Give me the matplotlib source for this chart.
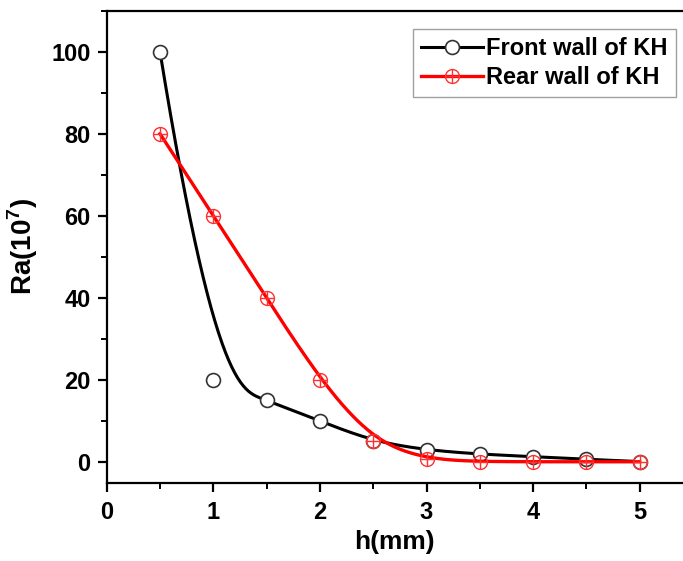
import numpy as np
import matplotlib
matplotlib.use("Agg")
import matplotlib.pyplot as plt
from matplotlib.ticker import MultipleLocator
from matplotlib.lines import Line2D

plt.rcParams['font.family'] = ['Liberation Sans', 'DejaVu Sans']
plt.rcParams['font.weight'] = 'bold'
plt.rcParams['mathtext.fontset'] = 'custom'
plt.rcParams['mathtext.bf'] = 'Liberation Sans:bold'
plt.rcParams['mathtext.rm'] = 'Liberation Sans:bold'

h = [0.5, 1.0, 1.5, 2.0, 2.5, 3.0, 3.5, 4.0, 4.5, 5.0]
front = [100, 20, 15, 10, 5, 2.9, 1.9, 1.3, 0.65, 0.1]
rear = [80, 60, 40, 20, 5, 0.65, 0.1, 0.05, 0.05, 0.05]


def bspline(px, py, deg=3, num=400):
    # clamped uniform B-spline using the data points as control points (Origin style)
    pts = np.column_stack([px, py]).astype(float)
    n = len(pts)
    inner = np.arange(1, n - deg)
    knots = np.concatenate([np.zeros(deg + 1), inner, np.full(deg + 1, n - deg)])
    ts = np.linspace(0, n - deg, num)
    out = []
    for t in ts:
        k = np.searchsorted(knots, t, side='right') - 1
        k = min(k, n - 1)
        d = [pts[j + k - deg].copy() for j in range(deg + 1)]
        for r in range(1, deg + 1):
            for j in range(deg, r - 1, -1):
                i = j + k - deg
                den = knots[i + deg + 1 - r] - knots[i]
                a = 0.0 if den == 0 else (t - knots[i]) / den
                d[j] = (1 - a) * d[j - 1] + a * d[j]
        out.append(d[deg])
    out = np.array(out)
    return out[:, 0], out[:, 1]


fig = plt.figure(figsize=(6.83, 5.61), dpi=100)
ax = fig.add_axes([106.7 / 683, 1 - 482.7 / 561, 1 - 106.7 / 683, (482.7 - 10.7) / 561])

fx, fy = bspline(h, front)
rx, ry = bspline(h, rear)

ax.plot(fx, fy, color='black', lw=2.2, zorder=2)
ax.plot(h, front, 'o', ms=10, mfc='white', mec='#333333', mew=1.2, zorder=3)
ax.plot(rx, ry, color='red', lw=2.4, zorder=4)
ax.plot(h, rear, 'o', ms=10, mfc='none', mec='#ff3030', mew=1.0, zorder=5)
ax.plot(h, rear, '+', ms=10, mec='#ff3030', mew=1.0, zorder=5)

ax.set_xlim(0, (683 - 106.7) / 106.6)
ax.set_ylim(-5.05, 110)
ax.xaxis.set_minor_locator(MultipleLocator(0.5))
ax.yaxis.set_minor_locator(MultipleLocator(10))
ax.set_xticks([0, 1, 2, 3, 4, 5])
ax.set_yticks([0, 20, 40, 60, 80, 100])
ax.tick_params(which='major', direction='out', length=6.5, width=1.6, labelsize=17)
ax.tick_params(axis='x', which='major', pad=7)
ax.tick_params(axis='y', which='major', pad=5)
ax.tick_params(which='minor', direction='out', length=4, width=1.4)
ax.spines['right'].set_visible(False)
for s in ['left', 'bottom', 'top']:
    ax.spines[s].set_linewidth(1.6)
for lab in ax.get_xticklabels() + ax.get_yticklabels():
    lab.set_fontweight('bold')

ax.set_xlabel('h(mm)', fontsize=19, fontweight='bold', labelpad=4)
ax.set_ylabel('Ra(10$^{\\mathbf{7}}$)', fontsize=20, fontweight='bold', labelpad=8)

h1 = Line2D([], [], color='black', lw=2.2, marker='o', ms=10, mfc='white', mec='#333333', mew=1.2)
h2a = Line2D([], [], color='red', lw=2.4, marker='o', ms=10, mfc='none', mec='#ff3030', mew=1.0)
h2b = Line2D([], [], ls='none', marker='+', ms=10, mec='#ff3030', mew=1.0)
leg = ax.legend([h1, (h2a, h2b)], ['Front wall of KH', 'Rear wall of KH'],
                loc='upper right', bbox_to_anchor=(676 / 683, 1 - 29 / 561),
                bbox_transform=fig.transFigure, fontsize=17, frameon=True, fancybox=False,
                edgecolor='#888888', handlelength=2.6, handletextpad=0.15, borderpad=0.35,
                labelspacing=0.25, borderaxespad=0)
leg.get_frame().set_linewidth(1.0)
for t in leg.get_texts():
    t.set_fontweight('bold')

fig.savefig('out.png', dpi=100)
